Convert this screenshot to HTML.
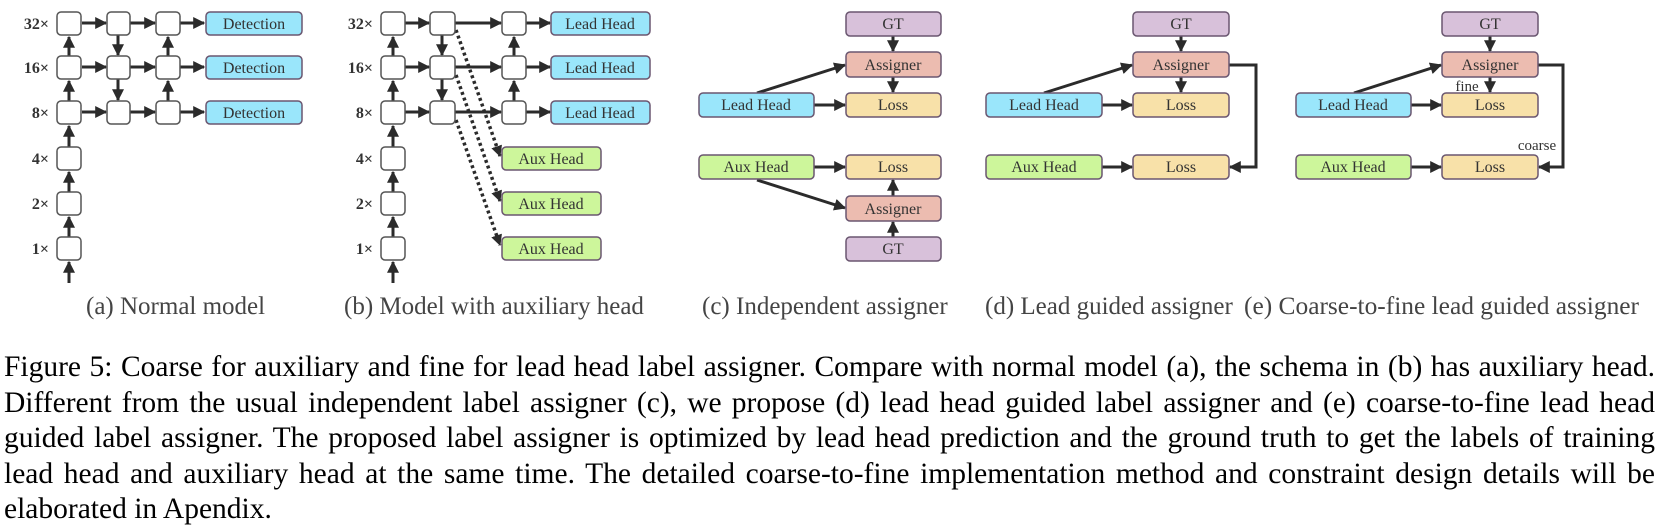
<!DOCTYPE html>
<html><head><meta charset="utf-8"><style>
body{margin:0;background:#fff;width:1661px;height:531px;overflow:hidden;position:relative}
svg{position:absolute;left:0;top:0}
.cap{position:absolute;left:4px;top:350px;width:1651px;font-family:"Liberation Serif",serif;font-size:29.5px;line-height:35.6px;text-align:justify;color:#000}
.cap span{display:block;text-align:justify;text-align-last:justify;white-space:normal}
.cap span.last{text-align-last:left}
</style></head><body>
<svg width="1661" height="531" viewBox="0 0 1661 531" font-family="Liberation Serif, serif">
<defs>
<marker id="a" viewBox="0 0 10 10" refX="9" refY="5" markerWidth="4" markerHeight="4" orient="auto" markerUnits="strokeWidth"><path d="M0,0L10,5L0,10z" fill="#2b2b2b"/></marker>
<marker id="s" viewBox="0 0 10 10" refX="9" refY="5" markerWidth="3.2" markerHeight="3.2" orient="auto" markerUnits="strokeWidth"><path d="M0,0L10,5L0,10z" fill="#2b2b2b"/></marker>
</defs>
<g stroke="#2b2b2b" stroke-width="3" fill="none">
<g marker-end="url(#a)">
<line x1="69" y1="283" x2="69" y2="262"/>
<line x1="69" y1="237" x2="69" y2="217"/>
<line x1="69" y1="192" x2="69" y2="172"/>
<line x1="69" y1="147" x2="69" y2="126"/>
<line x1="69" y1="101" x2="69" y2="81"/>
<line x1="69" y1="56" x2="69" y2="37"/>
<line x1="82" y1="23" x2="106" y2="23"/><line x1="130" y1="23" x2="155" y2="23"/><line x1="180" y1="23" x2="204" y2="23"/>
<line x1="82" y1="67" x2="106" y2="67"/><line x1="130" y1="67" x2="155" y2="67"/><line x1="180" y1="67" x2="204" y2="67"/>
<line x1="82" y1="112" x2="106" y2="112"/><line x1="130" y1="112" x2="155" y2="112"/><line x1="180" y1="112" x2="204" y2="112"/>
<line x1="118" y1="35" x2="118" y2="55"/><line x1="118" y1="79" x2="118" y2="100"/>
<line x1="168" y1="101" x2="168" y2="81"/><line x1="168" y1="56" x2="168" y2="37"/>
</g>
<g marker-end="url(#a)">
<line x1="393" y1="283" x2="393" y2="262"/>
<line x1="393" y1="237" x2="393" y2="217"/>
<line x1="393" y1="192" x2="393" y2="172"/>
<line x1="393" y1="147" x2="393" y2="126"/>
<line x1="393" y1="101" x2="393" y2="81"/>
<line x1="393" y1="56" x2="393" y2="37"/>
<line x1="405" y1="23" x2="429" y2="23"/><line x1="455" y1="23" x2="501" y2="23"/><line x1="526" y1="23" x2="550" y2="23"/>
<line x1="405" y1="67" x2="429" y2="67"/><line x1="455" y1="67" x2="501" y2="67"/><line x1="526" y1="67" x2="550" y2="67"/>
<line x1="405" y1="112" x2="429" y2="112"/><line x1="455" y1="112" x2="501" y2="112"/><line x1="526" y1="112" x2="550" y2="112"/>
<line x1="442" y1="35" x2="442" y2="55"/><line x1="442" y1="79" x2="442" y2="100"/>
<line x1="514" y1="101" x2="514" y2="81"/><line x1="514" y1="56" x2="514" y2="37"/>
</g>
<g stroke-dasharray="3,3" stroke-width="3.5" marker-end="url(#s)">
<line x1="456" y1="30" x2="500" y2="156"/>
<line x1="456" y1="75" x2="500" y2="201"/>
<line x1="456" y1="120" x2="500" y2="245"/>
</g>
<g marker-end="url(#a)">
<line x1="893" y1="36" x2="893" y2="51"/>
<line x1="893" y1="77" x2="893" y2="92"/>
<line x1="814" y1="105" x2="845" y2="105"/>
<line x1="757" y1="93" x2="845" y2="65"/>
<line x1="814" y1="167" x2="845" y2="167"/>
<line x1="757" y1="180" x2="845" y2="208"/>
<line x1="893" y1="196" x2="893" y2="180"/>
<line x1="893" y1="237" x2="893" y2="222"/>
</g>
<g marker-end="url(#a)">
<line x1="1181" y1="36" x2="1181" y2="51"/>
<line x1="1181" y1="77" x2="1181" y2="92"/>
<line x1="1102" y1="105" x2="1132" y2="105"/>
<line x1="1044" y1="93" x2="1132" y2="65"/>
<line x1="1102" y1="167" x2="1132" y2="167"/>
<polyline points="1229,65 1256,65 1256,167 1230,167"/>
</g>
<g marker-end="url(#a)">
<line x1="1490" y1="36" x2="1490" y2="51"/>
<line x1="1490" y1="77" x2="1490" y2="92"/>
<line x1="1411" y1="105" x2="1441" y2="105"/>
<line x1="1354" y1="93" x2="1441" y2="65"/>
<line x1="1411" y1="167" x2="1441" y2="167"/>
<polyline points="1538,65 1563,65 1563,167 1539,167"/>
</g>
</g>
<g stroke="#555" stroke-width="1.5" fill="#fff">
<rect x="57" y="12" width="24" height="23" rx="4"/><rect x="107" y="12" width="23" height="23" rx="4"/><rect x="156" y="12" width="24" height="23" rx="4"/>
<rect x="57" y="56" width="24" height="23" rx="4"/><rect x="107" y="56" width="23" height="23" rx="4"/><rect x="156" y="56" width="24" height="23" rx="4"/>
<rect x="57" y="101" width="24" height="23" rx="4"/><rect x="107" y="101" width="23" height="23" rx="4"/><rect x="156" y="101" width="24" height="23" rx="4"/>
<rect x="57" y="147" width="24" height="23" rx="4"/><rect x="57" y="192" width="24" height="23" rx="4"/><rect x="57" y="237" width="24" height="23" rx="4"/>
<rect x="381" y="12" width="24" height="23" rx="4"/><rect x="430" y="12" width="25" height="23" rx="4"/><rect x="502" y="12" width="24" height="23" rx="4"/>
<rect x="381" y="56" width="24" height="23" rx="4"/><rect x="430" y="56" width="25" height="23" rx="4"/><rect x="502" y="56" width="24" height="23" rx="4"/>
<rect x="381" y="101" width="24" height="23" rx="4"/><rect x="430" y="101" width="25" height="23" rx="4"/><rect x="502" y="101" width="24" height="23" rx="4"/>
<rect x="381" y="147" width="24" height="23" rx="4"/><rect x="381" y="192" width="24" height="23" rx="4"/><rect x="381" y="237" width="24" height="23" rx="4"/>
</g>
<g stroke="#6a5670" stroke-width="1.5">
<rect x="206" y="12" width="96" height="23" rx="4" fill="#9ae6fb"/>
<rect x="206" y="56" width="96" height="23" rx="4" fill="#9ae6fb"/>
<rect x="206" y="101" width="96" height="23" rx="4" fill="#9ae6fb"/>
<rect x="551" y="12" width="99" height="23" rx="4" fill="#9ae6fb"/>
<rect x="551" y="56" width="99" height="23" rx="4" fill="#9ae6fb"/>
<rect x="551" y="101" width="99" height="23" rx="4" fill="#9ae6fb"/>
<rect x="502" y="147" width="99" height="23" rx="4" fill="#cdf69b"/>
<rect x="502" y="192" width="99" height="23" rx="4" fill="#cdf69b"/>
<rect x="502" y="237" width="99" height="23" rx="4" fill="#cdf69b"/>
<rect x="846" y="12" width="95" height="24" rx="4" fill="#d8c1da"/>
<rect x="846" y="52" width="95" height="25" rx="4" fill="#ecbcb0"/>
<rect x="846" y="93" width="95" height="24" rx="4" fill="#f8e1a9"/>
<rect x="699" y="93" width="115" height="24" rx="4" fill="#9ae6fb"/>
<rect x="699" y="155" width="115" height="24" rx="4" fill="#cdf69b"/>
<rect x="846" y="155" width="95" height="24" rx="4" fill="#f8e1a9"/>
<rect x="846" y="196" width="95" height="25" rx="4" fill="#ecbcb0"/>
<rect x="846" y="237" width="95" height="24" rx="4" fill="#d8c1da"/>
<rect x="1133" y="12" width="96" height="24" rx="4" fill="#d8c1da"/>
<rect x="1133" y="52" width="96" height="25" rx="4" fill="#ecbcb0"/>
<rect x="1133" y="93" width="96" height="24" rx="4" fill="#f8e1a9"/>
<rect x="986" y="93" width="116" height="24" rx="4" fill="#9ae6fb"/>
<rect x="986" y="155" width="116" height="24" rx="4" fill="#cdf69b"/>
<rect x="1133" y="155" width="96" height="24" rx="4" fill="#f8e1a9"/>
<rect x="1442" y="12" width="96" height="24" rx="4" fill="#d8c1da"/>
<rect x="1442" y="52" width="96" height="25" rx="4" fill="#ecbcb0"/>
<rect x="1442" y="93" width="96" height="24" rx="4" fill="#f8e1a9"/>
<rect x="1296" y="93" width="115" height="24" rx="4" fill="#9ae6fb"/>
<rect x="1296" y="155" width="115" height="24" rx="4" fill="#cdf69b"/>
<rect x="1442" y="155" width="96" height="24" rx="4" fill="#f8e1a9"/>
</g>
<g font-size="16" fill="#333" text-anchor="middle">
<text x="254" y="29">Detection</text><text x="254" y="73">Detection</text><text x="254" y="118">Detection</text>
<text x="600" y="29">Lead Head</text><text x="600" y="73">Lead Head</text><text x="600" y="118">Lead Head</text>
<text x="551" y="164">Aux Head</text><text x="551" y="209">Aux Head</text><text x="551" y="254">Aux Head</text>
<text x="893" y="29">GT</text><text x="893" y="70">Assigner</text><text x="893" y="110">Loss</text>
<text x="756" y="110">Lead Head</text><text x="756" y="172">Aux Head</text>
<text x="893" y="172">Loss</text><text x="893" y="214">Assigner</text><text x="893" y="254">GT</text>
<text x="1181" y="29">GT</text><text x="1181" y="70">Assigner</text><text x="1181" y="110">Loss</text>
<text x="1044" y="110">Lead Head</text><text x="1044" y="172">Aux Head</text><text x="1181" y="172">Loss</text>
<text x="1490" y="29">GT</text><text x="1490" y="70">Assigner</text><text x="1490" y="110">Loss</text>
<text x="1353" y="110">Lead Head</text><text x="1353" y="172">Aux Head</text><text x="1490" y="172">Loss</text>
<text x="1467" y="91" font-size="15">fine</text><text x="1537" y="150" font-size="15">coarse</text>
</g>
<g font-size="16" fill="#333" text-anchor="end" font-weight="bold">
<text x="49" y="29">32×</text><text x="49" y="73">16×</text><text x="49" y="118">8×</text><text x="49" y="164">4×</text><text x="49" y="209">2×</text><text x="49" y="254">1×</text>
<text x="373" y="29">32×</text><text x="373" y="73">16×</text><text x="373" y="118">8×</text><text x="373" y="164">4×</text><text x="373" y="209">2×</text><text x="373" y="254">1×</text>
</g>
<g font-size="25" fill="#444">
<text x="86" y="314">(a) Normal model</text>
<text x="344" y="314">(b) Model with auxiliary head</text>
<text x="702" y="314">(c) Independent assigner</text>
<text x="985" y="314">(d) Lead guided assigner</text>
<text x="1244" y="314" textLength="395" lengthAdjust="spacingAndGlyphs">(e) Coarse-to-fine lead guided assigner</text>
</g>
</svg>
<div class="cap">
<span>Figure 5: Coarse for auxiliary and fine for lead head label assigner. Compare with normal model (a), the schema in (b) has auxiliary head.</span>
<span>Different from the usual independent label assigner (c), we propose (d) lead head guided label assigner and (e) coarse-to-fine lead head</span>
<span>guided label assigner. The proposed label assigner is optimized by lead head prediction and the ground truth to get the labels of training</span>
<span>lead head and auxiliary head at the same time. The detailed coarse-to-fine implementation method and constraint design details will be</span>
<span class="last">elaborated in Apendix.</span>
</div>
</body></html>
